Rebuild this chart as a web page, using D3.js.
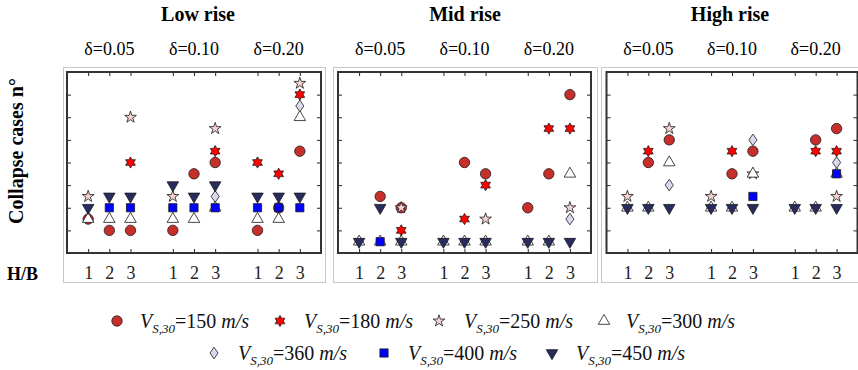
<!DOCTYPE html>
<html>
<head>
<meta charset="utf-8">
<script src="https://cdn.jsdelivr.net/npm/d3@7"></script>
<style>
  body { margin: 0; background: #fff; }
  svg { display: block; }
  svg text { font-family: "Liberation Serif", "Times New Roman", serif; }
</style>
</head>
<body>
<div id="chart"></div>
<script>
const panels = ["Low rise", "Mid rise", "High rise"];
const deltas = ["δ=0.05", "δ=0.10", "δ=0.20"];
const hbLabels = ["1", "2", "3"];
const yTicks = [1, 2, 3, 4, 5, 6, 7];
const velocities = ["150", "180", "250", "300", "360", "400", "450"];

// 27 values per series: low rise (9), mid rise (9), high rise (9)
// order in each panel: δ=0.05 H/B 1,2,3 | δ=0.10 H/B 1,2,3 | δ=0.20 H/B 1,2,3
// null = marker not visible in the picture
const vs150 = [1.5, 1, 1, 1, 3.5, 4, 1, 2, 4.5,
               null, 2.5, 2, null, 4, 3.5, 2, 3.5, 7,
               null, 4, 5, null, 3.5, 4.5, null, 5, 5.5];
const vs180 = [null, null, 4, null, null, 4.5, 4, 3.5, 7,
               null, null, 1, null, 1.5, 3, null, 5.5, 5.5,
               null, 4.5, null, null, 4.5, null, null, 4.5, 4.5];
const vs250 = [2.5, null, 6, 2.5, null, 5.5, null, null, 7.5,
               null, null, 2, null, null, 1.5, null, null, 2,
               2.5, null, 5.5, 2.5, null, 3.5, null, null, 2.5];
const vs300 = [1.5, 1.5, 1.5, 1.5, 1.5, 2, 1.5, 1.5, 6,
               0.5, 0.5, 0.5, 0.5, 0.5, 0.5, 0.5, 0.5, 3.5,
               2, 2, 4, 2, 2, 3.5, 2, 2, 3.5];
const vs360 = [null, null, null, null, null, 2.5, null, null, 6.5,
               null, null, null, null, null, null, null, null, 1.5,
               null, null, 3, null, null, 5, null, null, 4];
const vs400 = [null, 2, 2, 2, 2, 2, 2, 2, 2,
               null, 0.5, null, null, null, null, null, null, null,
               null, null, null, null, null, 2.5, null, null, 3.5];
const vs450 = [2, 2.5, 2.5, 3, 2.5, 3, 2.5, 2.5, 2.5,
               0.5, 2, 0.5, 0.5, 0.5, 0.5, 0.5, 0.5, 0.5,
               2, 2, 2, 2, 2, 2, 2, 2, 2];

const seriesValues = [vs150, vs180, vs250, vs300, vs360, vs400, vs450];

const w = 858, h = 370;
const plotTop = 72, plotBottom = 253;
const boxes = [
  { x0: 67, x1: 321, f0: 63.5, f1: 325.5, tx: 198 },
  { x0: 338, x1: 591, f0: 333.5, f1: 597.5, tx: 465 },
  { x0: 606.5, x1: 857.5, f0: 601.5, f1: 880, tx: 730 }
];

// marker shapes (size = radius / side)
const starType = (n, ratio) => ({
  draw(ctx, r) {
    for (let k = 0; k < 2 * n; k++) {
      const a = -Math.PI / 2 + k * Math.PI / n;
      const rr = k % 2 ? r * ratio : r;
      if (k === 0) ctx.moveTo(rr * Math.cos(a), rr * Math.sin(a));
      else ctx.lineTo(rr * Math.cos(a), rr * Math.sin(a));
    }
    ctx.closePath();
  }
});
const circleType = { draw(ctx, r) { ctx.moveTo(r, 0); ctx.arc(0, 0, r, 0, 2 * Math.PI); } };
// triangles centred on their centroid, so up + down overlap into a hexagram
const triUp = { draw(ctx, s) { const th = s * 0.866; ctx.moveTo(0, -th * 2 / 3); ctx.lineTo(s / 2, th / 3); ctx.lineTo(-s / 2, th / 3); ctx.closePath(); } };
const triDown = { draw(ctx, s) { const th = s * 0.866; ctx.moveTo(0, th * 2 / 3); ctx.lineTo(s / 2, -th / 3); ctx.lineTo(-s / 2, -th / 3); ctx.closePath(); } };
const squareType = { draw(ctx, r) { ctx.rect(-r, -r, 2 * r, 2 * r); } };
const diamondType = { draw(ctx, r) { ctx.moveTo(0, -r); ctx.lineTo(r * 0.7, 0); ctx.lineTo(0, r); ctx.lineTo(-r * 0.7, 0); ctx.closePath(); } };

const markers = [
  { type: circleType, size: 5.2, fill: "#c62f2c" },
  { type: starType(6, 1 / Math.sqrt(3)), size: 5.6, fill: "#ff0000" },
  { type: starType(5, 0.382), size: 6.2, fill: "#f6d3d3" },
  { type: triUp, size: 11.5, fill: "#ffffff" },
  { type: diamondType, size: 5.8, fill: "#d8dbef" },
  { type: squareType, size: 4.1, fill: "#0000ff" },
  { type: triDown, size: 11.5, fill: "#272b5d" }
];

const svg = d3.select("#chart").append("svg")
  .attr("width", w)
  .attr("height", h);

const y = d3.scaleLinear().domain([0, 8]).range([plotBottom, plotTop]);

const posOf = (i) => Math.floor(i / 3) * 4 + (i % 3) + 1;

boxes.forEach((b, p) => {
  const x = d3.scaleLinear().domain([0, 12]).range([b.x0, b.x1]);
  const xTicks = d3.range(9).map(posOf);
  const g = svg.append("g");

  // outer light frame
  g.append("rect")
    .attr("x", b.f0).attr("y", 67.5)
    .attr("width", b.f1 - b.f0).attr("height", 282.5 - 67.5)
    .attr("fill", "none").attr("stroke", "#c8c8c8").attr("stroke-width", 1);

  g.append("text")
    .text(panels[p])
    .attr("x", b.tx).attr("y", 21)
    .attr("text-anchor", "middle")
    .attr("font-size", 20).attr("font-weight", "bold");

  deltas.forEach((d, k) => {
    g.append("text")
      .text(d)
      .attr("x", x(k * 4 + 2)).attr("y", 55)
      .attr("text-anchor", "middle")
      .attr("font-size", 18);
  });

  const xBottom = d3.axisBottom(x).tickValues(xTicks).tickSize(-4).tickPadding(13)
    .tickFormat((d, i) => hbLabels[i % 3]);
  const xTop = d3.axisTop(x).tickValues(xTicks).tickSize(-4).tickFormat("");
  const yLeft = d3.axisLeft(y).tickValues(yTicks).tickSize(-4).tickFormat("");
  const yRight = d3.axisRight(y).tickValues(yTicks).tickSize(-4).tickFormat("");

  const styleAxis = (sel) => {
    sel.select(".domain").remove();
    sel.selectAll("line").attr("stroke", "#222");
    sel.selectAll("text").attr("font-size", 18).attr("fill", "#222")
      .attr("font-family", "Liberation Serif, serif");
  };
  g.append("g").attr("transform", `translate(0,${plotBottom})`).call(xBottom).call(styleAxis);
  g.append("g").attr("transform", `translate(0,${plotTop})`).call(xTop).call(styleAxis);
  g.append("g").attr("transform", `translate(${b.x0},0)`).call(yLeft).call(styleAxis);
  g.append("g").attr("transform", `translate(${b.x1},0)`).call(yRight).call(styleAxis);

  g.append("rect")
    .attr("x", b.x0).attr("y", plotTop)
    .attr("width", b.x1 - b.x0).attr("height", plotBottom - plotTop)
    .attr("fill", "none").attr("stroke", "#333").attr("stroke-width", 2);

  seriesValues.forEach((vals, s) => {
    const m = markers[s];
    const pts = vals.slice(p * 9, p * 9 + 9)
      .map((v, i) => ({ v: v, xi: posOf(i) }))
      .filter((d) => d.v !== null);
    g.append("g")
      .selectAll("path")
      .data(pts)
      .enter()
      .append("path")
      .attr("d", d3.symbol().type(m.type).size(m.size))
      .attr("transform", (d) => `translate(${x(d.xi)},${y(d.v)})`)
      .attr("fill", m.fill)
      .attr("stroke", "#1a1a1a")
      .attr("stroke-width", 0.8);
  });
});

svg.append("text")
  .text("Collapse cases n°")
  .attr("transform", "translate(23,151) rotate(-90)")
  .attr("text-anchor", "middle")
  .attr("font-size", 20).attr("font-weight", "bold");

svg.append("text")
  .text("H/B")
  .attr("x", 7).attr("y", 280)
  .attr("font-size", 18).attr("font-weight", "bold");

// legend
const legendPos = [[117, 321, 140], [280, 321, 304], [439, 321, 464], [604, 321, 626],
                   [214, 353, 238], [384, 353, 408], [552, 353, 576]];

velocities.forEach((v, s) => {
  const [mx, my, tx] = legendPos[s];
  const m = markers[s];
  svg.append("path")
    .attr("d", d3.symbol().type(m.type).size(m.size))
    .attr("transform", `translate(${mx},${my})`)
    .attr("fill", m.fill)
    .attr("stroke", "#1a1a1a")
    .attr("stroke-width", 0.8);

  const t = svg.append("text")
    .attr("x", tx).attr("y", my + 7)
    .attr("font-family", "Liberation Serif, serif")
    .attr("font-size", 20).attr("fill", "#111");
  t.append("tspan").attr("font-style", "italic").text("V");
  t.append("tspan").attr("font-style", "italic").attr("font-size", 13).attr("dy", 5).text("S,30");
  t.append("tspan").attr("dy", -5).text("=" + v + "\u00A0");
  t.append("tspan").attr("font-style", "italic").text("m/s");
});
</script>
</body>
</html>
